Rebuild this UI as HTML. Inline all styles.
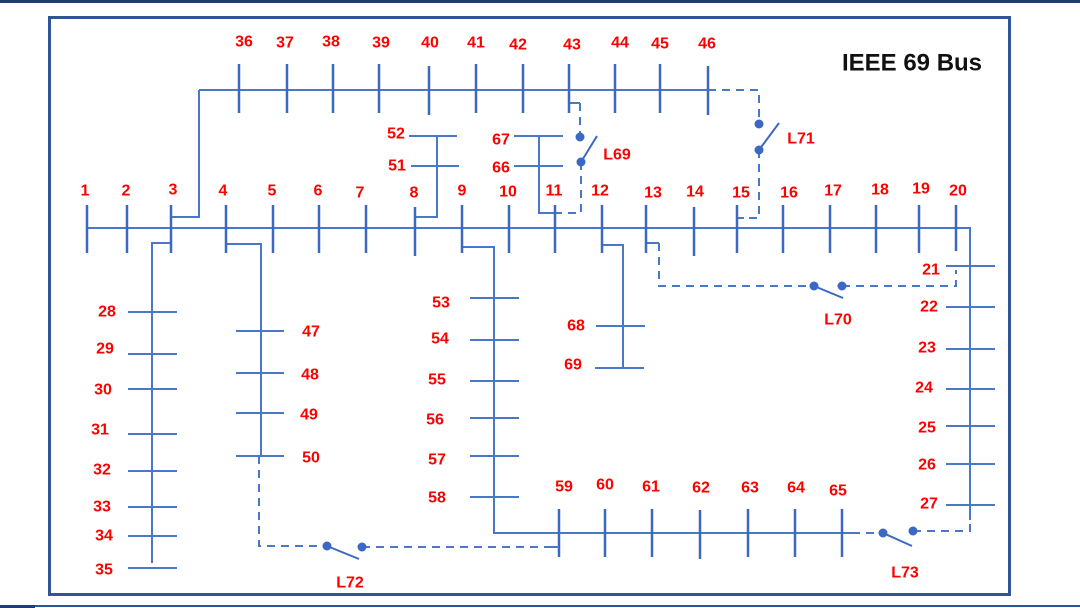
<!DOCTYPE html>
<html><head><meta charset="utf-8"><style>
html,body{margin:0;padding:0;background:#fff;width:1080px;height:608px;overflow:hidden}
svg{display:block}
.t{font-family:"Liberation Sans",sans-serif;font-weight:bold;font-size:16px;fill:#ff0000;text-anchor:middle;dominant-baseline:central}
</style></head><body>
<svg width="1080" height="608" viewBox="0 0 1080 608" xmlns="http://www.w3.org/2000/svg">
<rect x="0" y="0" width="1080" height="3" fill="#1f3f73"/>
<rect x="35" y="605" width="1045" height="2" fill="#2f5597"/>
<rect x="0" y="605" width="35" height="3" fill="#1f3f73"/>
<rect x="49.5" y="17.5" width="960" height="577" fill="none" stroke="#2f5597" stroke-width="3"/>
<text x="912" y="63" font-family="Liberation Sans,sans-serif" font-weight="bold" font-size="24" text-anchor="middle" dominant-baseline="central" fill="#111">IEEE 69 Bus</text>

<g stroke="#4a78c8" stroke-width="2" fill="none">
<path d="M87 228 H970 V520"/>
<path d="M199 90 H708 M171 217 H199 V90"/>
<path d="M409 136 H457 M411 166 H459 M437 136 V217 H415"/>
<path d="M514 136 H563 M514 166 H563 M539 136 V213 H562"/>
<path d="M171 243 H152 V563"/>
<path d="M128 312 H177 M128 354 H177 M128 389 H177 M128 434 H177 M128 471 H177 M128 507 H177 M128 536 H177 M128 568 H177"/>
<path d="M226 244 H261 V456"/>
<path d="M236 331 H284 M236 373 H284 M236 413 H284 M236 456 H284"/>
<path d="M462 247 H494 V533 H852"/>
<path d="M470 298 H519 M470 340 H519 M470 381 H519 M470 418 H519 M470 456 H519 M470 497 H519"/>
<path d="M602 245 H623 V368"/>
<path d="M596 326 H645 M595 368 H644"/>
<path d="M946 266 H995 M946 307 H995 M946 349 H995 M946 389 H995 M946 426 H995 M946 464 H995 M946 505 H995"/>
<path d="M646 243 H659 M569 103 H580 M737 218 H744 M549 547 H559"/>
</g>

<g stroke="#3a68c2" stroke-width="2.5">
<path d="M87 205 V253 M127 205 V253 M171 205 V253 M226 205 V253 M273 205 V253 M319 205 V253 M366 205 V253 M415 207 V256 M462 205 V253 M509 205 V253 M555 205 V253 M602 205 V253 M646 205 V253 M694 207 V256 M737 205 V253 M783 205 V253 M830 205 V253 M876 205 V253 M919 205 V253 M956 205 V251"/>
<path d="M239 64 V113 M287 64 V113 M333 64 V113 M379 64 V113 M429 66 V115 M476 64 V113 M523 64 V113 M569 64 V113 M615 64 V113 M660 64 V113 M708 66 V115"/>
<path d="M559 509 V557 M605 509 V557 M652 509 V557 M700 510 V559 M748 509 V557 M795 509 V557 M842 509 V557"/>
</g>

<g stroke="#4a78c8" stroke-width="2" fill="none" stroke-dasharray="8 6">
<path d="M708 90 H759 V124"/>
<path d="M759 150 V218 H744"/>
<path d="M580 103 V137"/>
<path d="M581 162 V213 H562"/>
<path d="M659 243 V286 H814"/>
<path d="M842 286 H956 V270"/>
<path d="M259 456 V546 H326"/>
<path d="M362 547 H559"/>
<path d="M852 533 H883"/>
<path d="M913 531 H970 V520"/>
</g>

<g fill="#3a68c2" stroke="#3a68c2" stroke-width="2">
<circle cx="759" cy="124" r="3.5"/><circle cx="759" cy="150" r="3.5"/><line x1="759" y1="150" x2="779" y2="123"/>
<circle cx="580" cy="137" r="3.5"/><circle cx="581" cy="162" r="3.5"/><line x1="581" y1="162" x2="597" y2="136"/>
<circle cx="814" cy="286" r="3.5"/><circle cx="842" cy="286" r="3.5"/><line x1="814" y1="286" x2="843" y2="298"/>
<circle cx="327" cy="546" r="3.5"/><circle cx="362" cy="547" r="3.5"/><line x1="327" y1="546" x2="359" y2="559"/>
<circle cx="883" cy="533" r="3.5"/><circle cx="913" cy="531" r="3.5"/><line x1="883" y1="533" x2="912" y2="546"/>
</g>

<g class="t">
<text x="85" y="191">1</text><text x="126" y="191">2</text><text x="173" y="190">3</text><text x="223" y="191">4</text><text x="272" y="191">5</text><text x="318" y="191">6</text><text x="360" y="193">7</text><text x="414" y="193">8</text><text x="462" y="191">9</text><text x="508" y="192">10</text>
<text x="554" y="191">11</text><text x="600" y="191">12</text><text x="653" y="193">13</text><text x="695" y="192">14</text><text x="741" y="193">15</text><text x="789" y="193">16</text><text x="833" y="191">17</text><text x="880" y="190">18</text><text x="921" y="189">19</text><text x="958" y="191">20</text>
<text x="244" y="42">36</text><text x="285" y="43">37</text><text x="331" y="42">38</text><text x="381" y="43">39</text><text x="430" y="43">40</text><text x="476" y="43">41</text><text x="518" y="45">42</text><text x="572" y="45">43</text><text x="620" y="43">44</text><text x="660" y="44">45</text><text x="707" y="44">46</text>
<text x="396" y="134">52</text><text x="397" y="166">51</text><text x="501" y="140">67</text><text x="501" y="168">66</text>
<text x="107" y="312">28</text><text x="105" y="349">29</text><text x="103" y="390">30</text><text x="100" y="430">31</text><text x="102" y="470">32</text><text x="102" y="507">33</text><text x="104" y="536">34</text><text x="104" y="570">35</text>
<text x="311" y="332">47</text><text x="310" y="375">48</text><text x="309" y="415">49</text><text x="311" y="458">50</text>
<text x="441" y="303">53</text><text x="440" y="339">54</text><text x="437" y="380">55</text><text x="435" y="420">56</text><text x="437" y="460">57</text><text x="437" y="498">58</text>
<text x="576" y="326">68</text><text x="573" y="365">69</text>
<text x="564" y="487">59</text><text x="605" y="485">60</text><text x="651" y="487">61</text><text x="701" y="488">62</text><text x="750" y="488">63</text><text x="796" y="488">64</text><text x="838" y="491">65</text>
<text x="931" y="270">21</text><text x="929" y="307">22</text><text x="927" y="348">23</text><text x="924" y="388">24</text><text x="927" y="428">25</text><text x="927" y="465">26</text><text x="929" y="504">27</text>
<text x="801" y="139">L71</text><text x="617" y="155">L69</text><text x="838" y="320">L70</text><text x="350" y="583">L72</text><text x="905" y="573">L73</text>
</g>
</svg>
</body></html>
